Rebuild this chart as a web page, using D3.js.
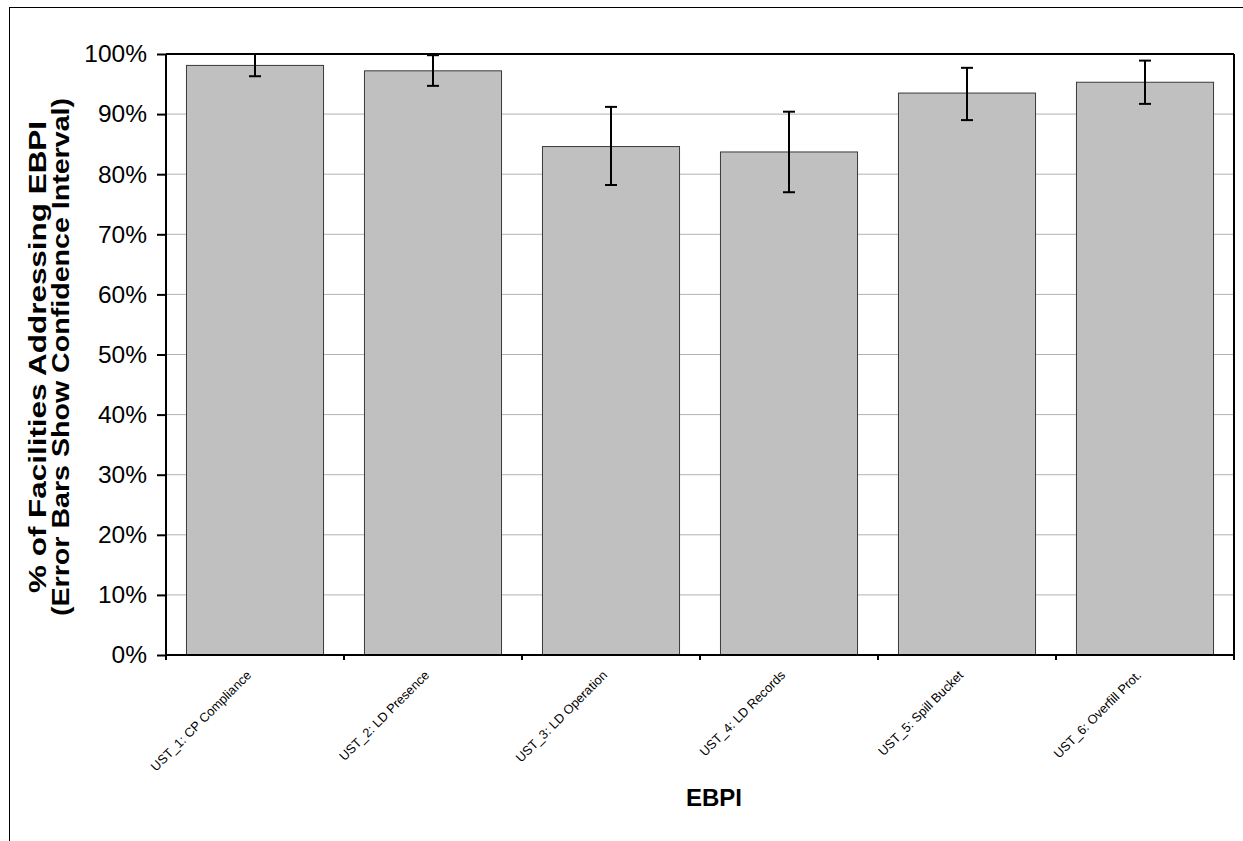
<!DOCTYPE html>
<html>
<head>
<meta charset="utf-8">
<script src="https://cdn.jsdelivr.net/npm/d3@7"></script>
<style>
  body { margin: 0; background: #fff; }
  svg { font-family: Arial, "Liberation Sans", sans-serif; }
</style>
</head>
<body>
<div id="chart"></div>
<script>
// Chart data
var categories = ["UST_1: CP Compliance", "UST_2: LD Presence", "UST_3: LD Operation",
                  "UST_4: LD Records", "UST_5: Spill Bucket", "UST_6: Overfill Prot."];
var values = [98.1, 97.2, 84.6, 83.7, 93.5, 95.3];
var errLow = [96.3, 94.7, 78.2, 77.0, 89.0, 91.7];
var errHigh = [100, 99.8, 91.2, 90.4, 97.7, 98.9];
var yTicks = [0, 10, 20, 30, 40, 50, 60, 70, 80, 90, 100];

var svgWidth = 1243, svgHeight = 841;
var margin = { top: 54, right: 9, bottom: 186, left: 166 };
var chartWidth = svgWidth - margin.left - margin.right;
var chartHeight = svgHeight - margin.top - margin.bottom;

var svg = d3.select("#chart").append("svg")
    .attr("width", svgWidth)
    .attr("height", svgHeight);

// Outer chart frame
svg.append("rect")
    .attr("x", 9.5).attr("y", 7.5)
    .attr("width", 1300).attr("height", 900)
    .attr("fill", "none")
    .attr("stroke", "#000")
    .attr("stroke-width", 1);

var chartGroup = svg.append("g")
    .attr("transform", `translate(${margin.left}, ${margin.top})`);

var xScale = d3.scaleBand()
    .domain(categories)
    .range([0, chartWidth])
    .paddingInner(0.23)
    .paddingOuter(0.115);

var bandScale = d3.scaleBand()
    .domain(categories)
    .range([0, chartWidth]);

var yScale = d3.scaleLinear()
    .domain([0, 100])
    .range([chartHeight, 0]);

// Gridlines
chartGroup.selectAll(".grid")
    .data(yTicks.slice(1, -1))
    .enter()
    .append("line")
    .attr("x1", 0)
    .attr("x2", chartWidth)
    .attr("y1", function(d) { return yScale(d); })
    .attr("y2", function(d) { return yScale(d); })
    .attr("stroke", "#b3b3b3")
    .attr("stroke-width", 1);

// Bars
chartGroup.selectAll(".bar")
    .data(values)
    .enter()
    .append("rect")
    .attr("x", function(d, i) { return xScale(categories[i]); })
    .attr("y", function(d) { return yScale(d); })
    .attr("width", xScale.bandwidth())
    .attr("height", function(d) { return chartHeight - yScale(d); })
    .attr("fill", "#c0c0c0")
    .attr("stroke", "#3a3a3a")
    .attr("stroke-width", 1);

// Error bars
var capHalf = 6;
var errGroup = chartGroup.selectAll(".err")
    .data(values)
    .enter()
    .append("g")
    .attr("transform", function(d, i) {
        return `translate(${xScale(categories[i]) + xScale.bandwidth() / 2}, 0)`;
    });

errGroup.append("line")
    .attr("x1", 0).attr("x2", 0)
    .attr("y1", function(d, i) { return yScale(errLow[i]); })
    .attr("y2", function(d, i) { return yScale(errHigh[i]); })
    .attr("stroke", "#000").attr("stroke-width", 2);

errGroup.append("line")
    .attr("x1", -capHalf).attr("x2", capHalf)
    .attr("y1", function(d, i) { return yScale(errLow[i]); })
    .attr("y2", function(d, i) { return yScale(errLow[i]); })
    .attr("stroke", "#000").attr("stroke-width", 2);

errGroup.append("line")
    .attr("x1", -capHalf).attr("x2", capHalf)
    .attr("y1", function(d, i) { return yScale(errHigh[i]); })
    .attr("y2", function(d, i) { return yScale(errHigh[i]); })
    .attr("stroke", "#000").attr("stroke-width", 2);

// Plot border top and right
chartGroup.append("line")
    .attr("x1", 0).attr("x2", chartWidth)
    .attr("y1", 0).attr("y2", 0)
    .attr("stroke", "#000").attr("stroke-width", 2);
chartGroup.append("line")
    .attr("x1", chartWidth).attr("x2", chartWidth)
    .attr("y1", 0).attr("y2", chartHeight)
    .attr("stroke", "#000").attr("stroke-width", 2);

// Y axis
var yAxis = d3.axisLeft(yScale)
    .tickValues(yTicks)
    .tickSize(9)
    .tickPadding(10)
    .tickFormat(function(d) { return d + "%"; });

var yAxisG = chartGroup.append("g").call(yAxis);
yAxisG.select(".domain").attr("stroke-width", 2).attr("d", `M0,0V${chartHeight}`);
yAxisG.selectAll(".tick line").attr("stroke-width", 2);
yAxisG.selectAll("text")
    .attr("font-size", "24.5px")
    .attr("font-family", "Arial, 'Liberation Sans', sans-serif")
    .attr("fill", "#000");

// X axis: ticks at band boundaries
var xAxisG = chartGroup.append("g")
    .attr("transform", `translate(0, ${chartHeight})`);
xAxisG.append("line")
    .attr("x1", 0).attr("x2", chartWidth)
    .attr("y1", 0).attr("y2", 0)
    .attr("stroke", "#000").attr("stroke-width", 2);
var boundaries = categories.map(function(c) { return bandScale(c); }).concat([chartWidth]);
xAxisG.selectAll(".xtick")
    .data(boundaries)
    .enter()
    .append("line")
    .attr("x1", function(d) { return d; })
    .attr("x2", function(d) { return d; })
    .attr("y1", 0).attr("y2", 5)
    .attr("stroke", "#000").attr("stroke-width", 2);

xAxisG.selectAll(".xlabel")
    .data(categories)
    .enter()
    .append("text")
    .attr("transform", function(d) {
        return `translate(${bandScale(d) + bandScale.bandwidth() / 2 - 3}, 21) rotate(-45)`;
    })
    .attr("text-anchor", "end")
    .attr("font-size", "12.8px")
    .attr("fill", "#000")
    .text(function(d) { return d; });

// Y axis title (two lines, stretched along their length like the original)
var yTitleLines = ["% of Facilities Addressing EBPI", "(Error Bars Show Confidence Interval)"];
var yTitleLengths = [472, 518];
var yTitleX = [46, 69];
yTitleLines.forEach(function(t, i) {
    svg.append("text")
        .attr("transform", `translate(${yTitleX[i]}, 357) rotate(-90)`)
        .attr("text-anchor", "middle")
        .attr("font-size", "23px")
        .attr("font-weight", "bold")
        .attr("fill", "#000")
        .attr("textLength", yTitleLengths[i])
        .attr("lengthAdjust", "spacingAndGlyphs")
        .text(t);
});

// X axis title
svg.append("text")
    .attr("x", 714)
    .attr("y", 806)
    .attr("text-anchor", "middle")
    .attr("font-size", "24px")
    .attr("font-weight", "bold")
    .attr("fill", "#000")
    .text("EBPI");
</script>
</body>
</html>
